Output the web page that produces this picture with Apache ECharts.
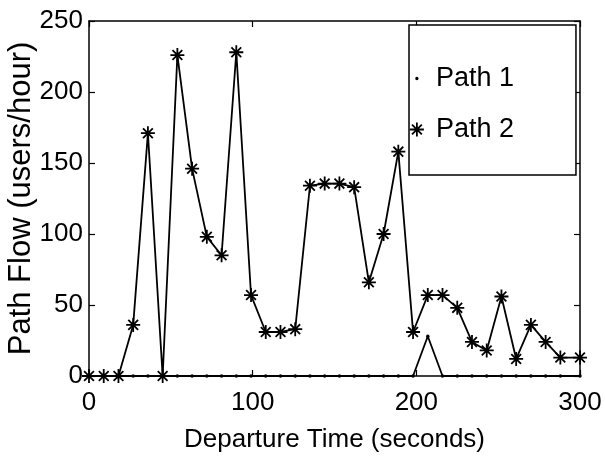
<!DOCTYPE html>
<html>
<head>
<meta charset="utf-8">
<script src="https://cdn.jsdelivr.net/npm/echarts@6/dist/echarts.min.js"></script>
<style>
html,body{margin:0;padding:0;background:#fff;}
#chart{width:605px;height:459px;}
</style>
</head>
<body>
<div id="chart"></div>
<script>
// Departure times (seconds)
const times = [0,9,18,27,36,45,54,63,72,81,90,99,108,117,126,135,144,153,162,171,180,189,198,207,216,225,234,243,252,261,270,279,288,300];
// Path flows (users/hour)
const path1 = [0,0,0,0,0,0,0,0,0,0,0,0,0,0,0,0,0,0,0,0,0,0,0,28,0,0,0,0,0,0,0,0,0,0];
const path2 = [0,0,0,36,171,0,226,146,98,85,228,57,31,31,33,134,135.5,135.5,133,66,100,158,31,57,57,48,24,18,56,12,36,24,13,13];
const xTicks = [0,100,200,300];
const yTicks = [0,50,100,150,200,250];
const seriesNames = ['Path 1','Path 2'];
const xTitle = 'Departure Time (seconds)';
const yTitle = 'Path Flow (users/hour)';

const FONT = 'Liberation Sans';
const asterisk = 'path://M5,0L5,10M0,5L10,5M1.5,1.5L8.5,8.5M1.5,8.5L8.5,1.5';
const smallDot = 'path://M0,0L0.01,0M10,10L10.01,10M5,3.8A1.2,1.2 0 1,1 5,6.2A1.2,1.2 0 1,1 5,3.8Z';
const pair = (arr) => times.map((t,i) => [t, arr[i]]);

const axisLine = {show:true, onZero:false, lineStyle:{color:'#000', width:1.5}};
const tick = {show:true, inside:false, length:-6, lineStyle:{color:'#000', width:1.2}};
const chart = echarts.init(document.getElementById('chart'), null, {renderer:'canvas'});
chart.setOption({
  animation:false,
  backgroundColor:'#fff',
  grid:{left:89, right:25, top:21, bottom:83, containLabel:false, outerBoundsMode:'none'},
  textStyle:{fontFamily:FONT, color:'#000'},
  xAxis:[{
    type:'value', min:xTicks[0], max:xTicks[xTicks.length-1], interval:100,
    axisLine:axisLine, axisTick:tick,
    axisLabel:{fontFamily:FONT, fontSize:26, color:'#000', margin:14},
    splitLine:{show:false},
    name:xTitle, nameLocation:'middle', nameGap:51, nameMoveOverlap:false,
    nameTextStyle:{fontFamily:FONT, fontSize:26, color:'#000'}
  },{
    type:'value', position:'top', min:xTicks[0], max:xTicks[xTicks.length-1], interval:100,
    axisLine:axisLine, axisTick:tick,
    axisLabel:{show:false}, splitLine:{show:false}
  }],
  yAxis:[{
    type:'value', min:yTicks[0], max:yTicks[yTicks.length-1], interval:50,
    axisLine:axisLine, axisTick:tick,
    axisLabel:{fontFamily:FONT, fontSize:26, color:'#000', margin:6},
    splitLine:{show:false},
    name:yTitle, nameLocation:'middle', nameGap:52, nameMoveOverlap:false,
    nameTextStyle:{fontFamily:FONT, fontSize:31, color:'#000'}
  },{
    type:'value', position:'right', min:yTicks[0], max:yTicks[yTicks.length-1], interval:50,
    axisLine:axisLine, axisTick:tick,
    axisLabel:{show:false}, splitLine:{show:false}
  }],
  legend:{
    orient:'vertical', left:409, top:25,
    padding:[40,62,32,0],
    itemWidth:24, itemHeight:14, itemGap:24,
    borderColor:'#000', borderWidth:1.5, backgroundColor:'#fff',
    textStyle:{fontFamily:FONT, fontSize:27, color:'#000', padding:[0,0,0,2]},
    data:[
      {name:seriesNames[0], icon:smallDot, itemStyle:{color:'#000', borderWidth:0}},
      {name:seriesNames[1], icon:asterisk, itemStyle:{color:'#000', borderColor:'#000', borderWidth:1.8}}
    ]
  },
  series:[{
    name:seriesNames[1], type:'line', data:pair(path2),
    symbol:asterisk, symbolSize:14,
    itemStyle:{color:'#000', borderColor:'#000', borderWidth:1.8},
    lineStyle:{color:'#000', width:1.8},
    z:3
  },{
    name:seriesNames[0], type:'line', data:pair(path1),
    symbol:'circle', symbolSize:3.5,
    itemStyle:{color:'#000'},
    lineStyle:{color:'#000', width:1.8},
    z:4
  }]
});
</script>
</body>
</html>
